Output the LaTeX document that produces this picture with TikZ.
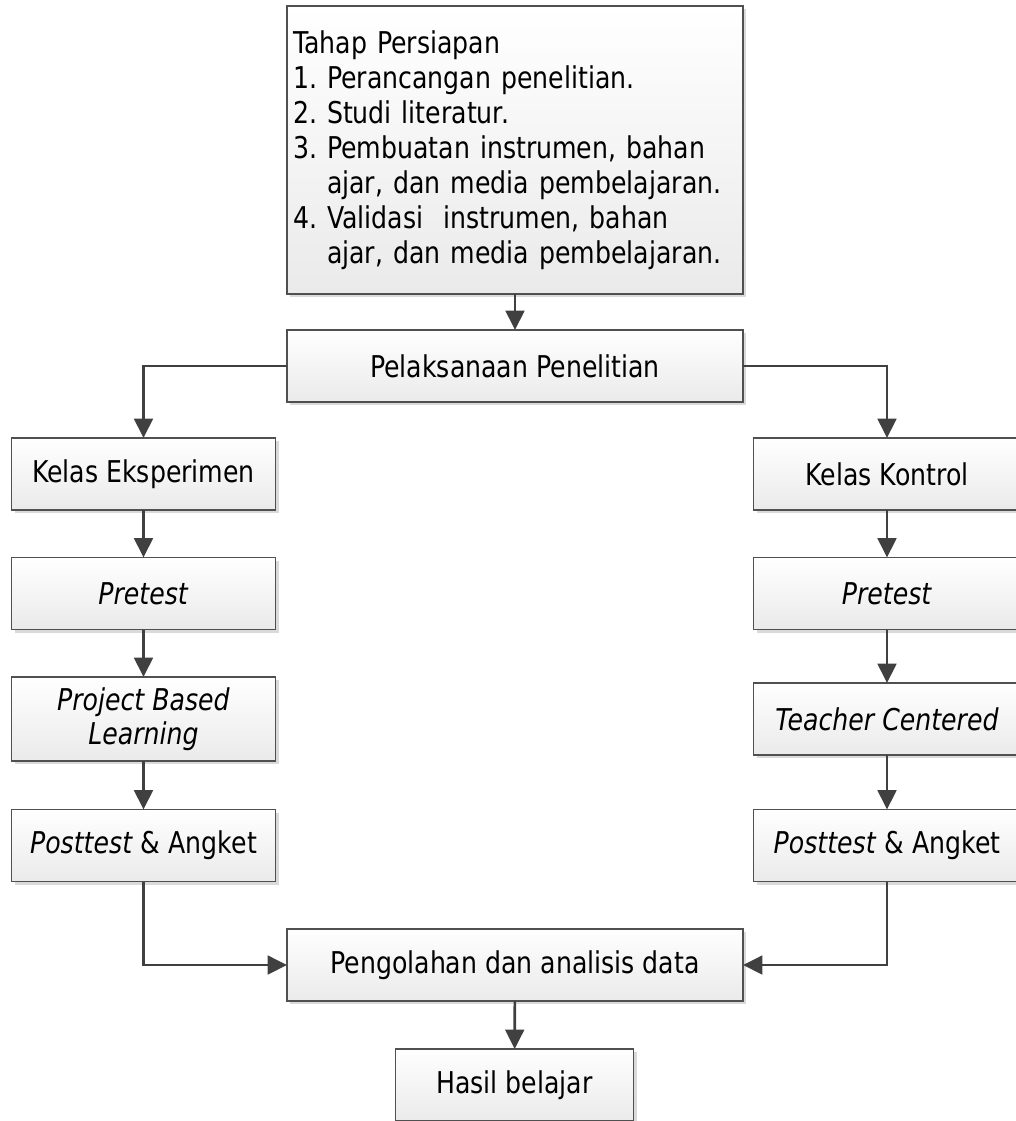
\documentclass[tikz,border=0pt]{standalone}
\usepackage{fontspec}
\setmainfont[FakeStretch=0.84]{DejaVu Sans}
\usetikzlibrary{shadows,arrows.meta}
\definecolor{edge}{HTML}{404040}
\definecolor{boxline}{HTML}{505050}
\definecolor{shade}{HTML}{EAEAEA}
\definecolor{shadowc}{HTML}{DADADA}
\begin{document}
\frenchspacing
\begin{tikzpicture}[x=0.75pt,y=-0.75pt,
 box/.style={draw=boxline, line width=0.8pt, top color=white, bottom color=shade,
   drop shadow={shadow xshift=2.6pt, shadow yshift=-2.6pt, fill=shadowc, opacity=1},
   minimum height=54pt, inner sep=0pt, outer sep=0pt,
   font=\fontsize{22.5}{25.5}\selectfont\frenchspacing, align=center},
 side/.style={box, minimum width=198pt},
 conn/.style={draw=edge, line width=2pt, -{Triangle[length=14.5pt,width=14pt]}}]
\useasboundingbox (0,0) rectangle (1016,1121);
\clip (0,0) rectangle (1016,1121);
\node[box, minimum width=342pt, minimum height=216pt, align=left, text width=333pt,
  font=\fontsize{22.5}{26.25}\selectfont\frenchspacing] (prep) at (515,150)
 {Tahap Persiapan\\1. Perancangan penelitian.\\2. Studi literatur.\\3. Pembuatan instrumen, bahan\\\phantom{3. }ajar, dan media pembelajaran.\\4. Validasi~~instrumen, bahan\\\phantom{4. }ajar, dan media pembelajaran.};
\node[box, minimum width=342pt] (pel) at (515,366) {Pelaksanaan Penelitian};
\node[side] (ke) at (143.5,474) {Kelas Eksperimen};
\node[side] (pre1) at (143.5,593.5) {\textit{Pretest}};
\node[side, minimum height=63pt] (pbl) at (143.5,719) {\textit{Project Based}\\\textit{Learning}};
\node[side] (post1) at (143.5,845.5) {\textit{Posttest} \& Angket};
\node[side, minimum width=200pt] (kk) at (887,474) {Kelas Kontrol};
\node[side, minimum width=200pt] (pre2) at (887,593.5) {\textit{Pretest}};
\node[side, minimum width=200pt] (tc) at (887,719) {\textit{Teacher Centered}};
\node[side, minimum width=200pt] (post2) at (887,845.5) {\textit{Posttest} \& Angket};
\node[box, minimum width=342pt] (peng) at (515,965) {Pengolahan dan analisis data};
\node[box, minimum width=179pt] (hasil) at (514.5,1085) {Hasil belajar};
\draw[conn] (prep.south) -- (pel.north);
\draw[conn] (pel.west) -| (ke.north);
\draw[conn] (pel.east) -| (kk.north);
\draw[conn] (ke) -- (pre1);
\draw[conn] (pre1) -- (pbl);
\draw[conn] (pbl) -- (post1);
\draw[conn] (kk) -- (pre2);
\draw[conn] (pre2) -- (tc);
\draw[conn] (tc) -- (post2);
\draw[conn] (post1.south) |- (peng.west);
\draw[conn] (post2.south) |- (peng.east);
\draw[conn] (peng) -- (hasil);
\end{tikzpicture}
\end{document}
